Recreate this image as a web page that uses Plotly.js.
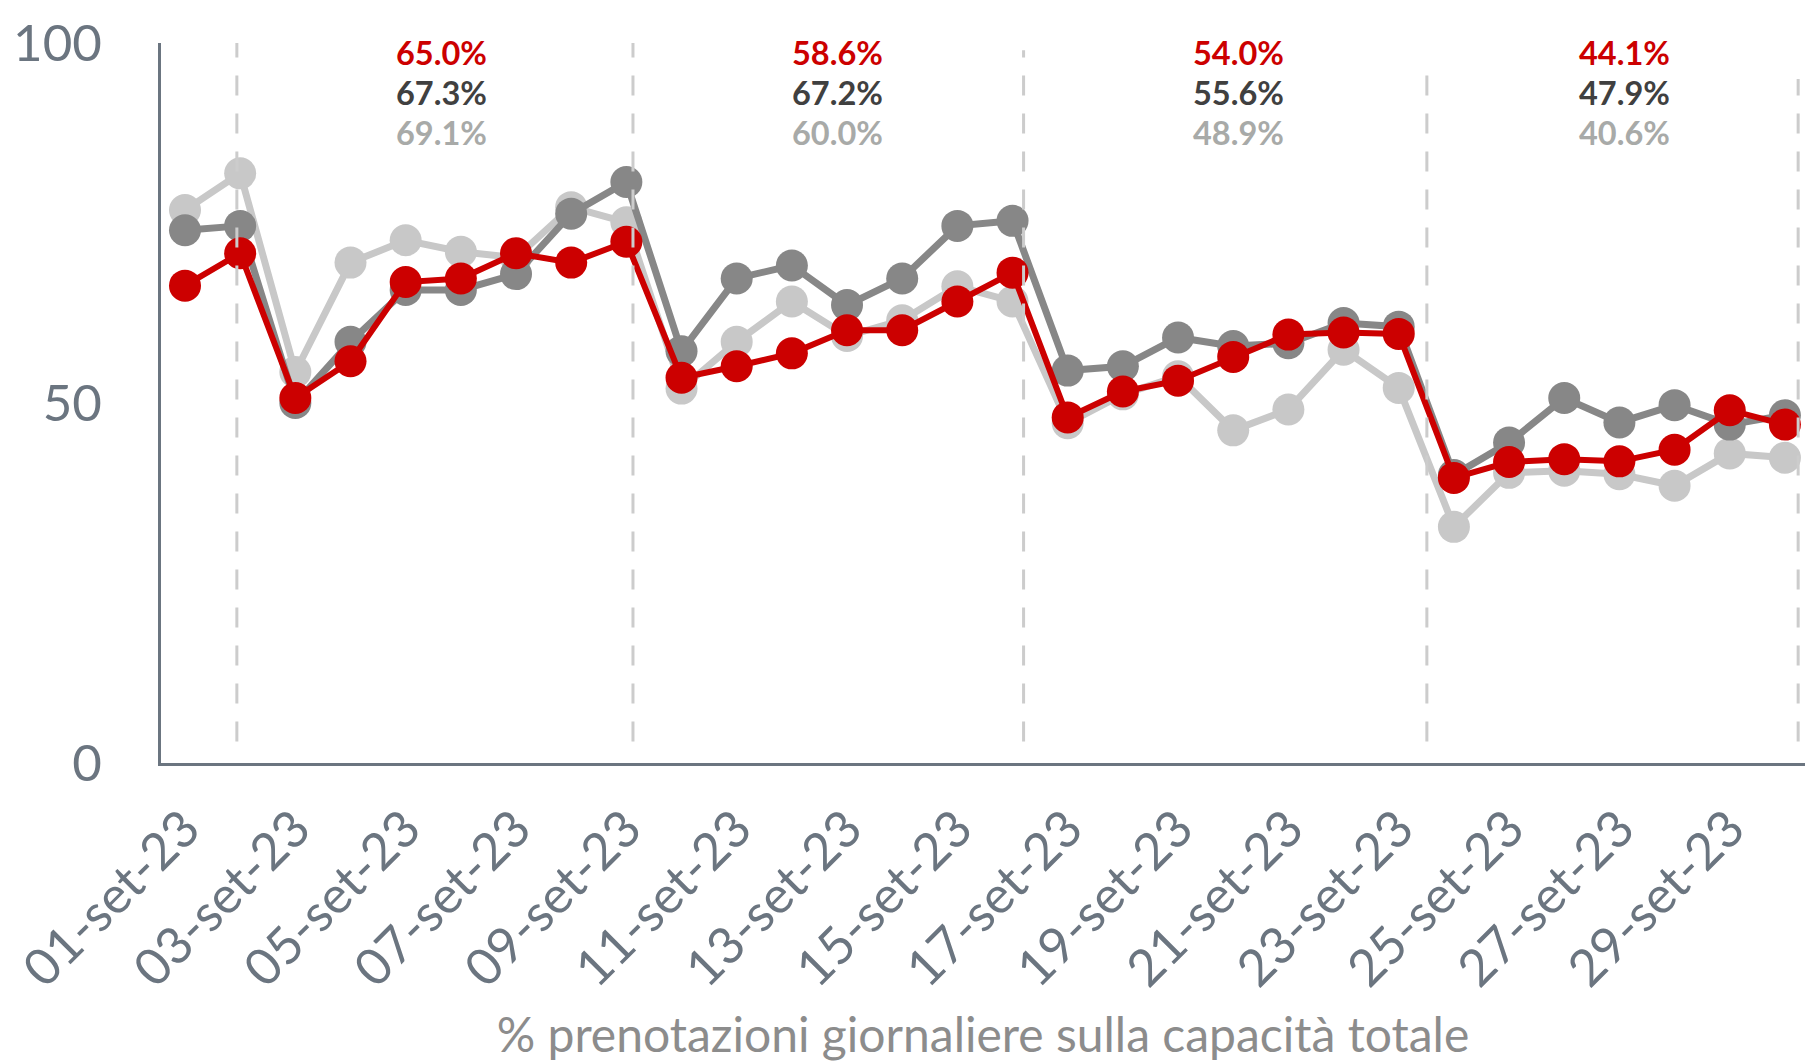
<!DOCTYPE html>
<html>
<head>
<meta charset="utf-8">
<script src="https://cdn.plot.ly/plotly-3.0.1.min.js"></script>
<style>
  html, body { margin: 0; padding: 0; background: #ffffff; }
  #chart { width: 1805px; height: 1062px; }
</style>
</head>
<body>
<div id="chart"></div>
<script>
// ---- Data ----
const days = ['01-set-23','02-set-23','03-set-23','04-set-23','05-set-23','06-set-23','07-set-23','08-set-23','09-set-23','10-set-23',
              '11-set-23','12-set-23','13-set-23','14-set-23','15-set-23','16-set-23','17-set-23','18-set-23','19-set-23','20-set-23',
              '21-set-23','22-set-23','23-set-23','24-set-23','25-set-23','26-set-23','27-set-23','28-set-23','29-set-23','30-set-23'];

const seriesRed   = [66.3, 70.8, 50.7, 55.8, 66.8, 67.3, 70.8, 69.5, 72.4, 53.5,
                     55.1, 56.9, 60.1, 60.1, 64.1, 68.1, 48.0, 51.6, 53.1, 56.4,
                     59.5, 59.8, 59.6, 39.6, 41.8, 42.2, 41.9, 43.5, 49.0, 47.0];
const seriesDark  = [74.0, 74.6, 50.0, 58.5, 65.7, 65.7, 67.9, 76.3, 80.7, 57.2,
                     67.3, 69.1, 63.6, 67.3, 74.6, 75.3, 54.5, 55.1, 59.1, 57.9,
                     58.3, 61.1, 60.6, 40.0, 44.5, 50.7, 47.3, 49.7, 47.0, 48.3];
const seriesLight = [76.8, 81.9, 54.3, 69.5, 72.6, 71.0, 70.2, 77.2, 75.1, 52.0,
                     58.5, 64.1, 59.3, 61.5, 66.2, 64.1, 47.2, 51.2, 53.7, 46.2,
                     49.1, 57.4, 52.1, 32.8, 40.3, 40.6, 40.1, 38.5, 43.0, 42.4];

const yTicks = [0, 50, 100];
const weekDividers = [0.94, 8.12, 15.2, 22.51, 29.24];
const dividerTop   = [100, 100, 99, 96, 95];
const weekLabelX   = [4.65, 11.83, 19.1, 26.1];
const avgRed   = ['65.0%', '58.6%', '54.0%', '44.1%'];
const avgDark  = ['67.3%', '67.2%', '55.6%', '47.9%'];
const avgLight = ['69.1%', '60.0%', '48.9%', '40.6%'];
const axisTitle = '% prenotazioni giornaliere sulla capacità totale';

// ---- Styles ----
const RED = '#cc0000', DARK = '#878787', LIGHT = '#c8c8c8';
const TXT_RED = '#cc0000', TXT_DARK = '#404040', TXT_LIGHT = '#a8aaa8';
const AXIS = '#6b7580';
const FONT = 'Lato, "Open Sans", sans-serif';

function lineTrace(y, color, width) {
  return {
    type: 'scatter', mode: 'lines+markers', x: days, y: y,
    line: { color: color, width: width },
    marker: { color: color, size: 32 },
    cliponaxis: false, hoverinfo: 'skip', showlegend: false
  };
}

const traces = [
  lineTrace(seriesLight, LIGHT, 7),
  lineTrace(seriesDark, DARK, 7),
  lineTrace(seriesRed, RED, 6)
];

const shapes = weekDividers.map((x, i) => ({
  type: 'line', xref: 'x', yref: 'y', x0: x, x1: x, y0: 3, y1: dividerTop[i],
  line: { color: '#cccccc', width: 3, dash: '20px,18px' }, layer: 'above'
}));

// one stacked annotation per week: base size sets the line spacing (40px),
// the spans carry the glyph size
const span = (t, c) => `<span style="color:${c};font-size:32.5px">${t}</span>`;
const annotations = weekLabelX.map((x, i) => ({
  x: x, y: 93.1, xref: 'x', yref: 'y', showarrow: false,
  xanchor: 'center', yanchor: 'middle', align: 'center',
  text: span(avgRed[i], TXT_RED) + '<br>' + span(avgDark[i], TXT_DARK) + '<br>' + span(avgLight[i], TXT_LIGHT),
  font: { family: FONT, size: 30.8, color: TXT_DARK, weight: 700 }
}));

const layout = {
  width: 1805, height: 1062,
  margin: { l: 161, r: 0, t: 43, b: 299 },
  paper_bgcolor: '#ffffff', plot_bgcolor: '#ffffff',
  showlegend: false,
  xaxis: {
    type: 'category', range: [-0.435, 29.364],
    tickmode: 'linear', tick0: 0, dtick: 2,
    tickangle: -45, showgrid: false, zeroline: false,
    showline: true, linecolor: AXIS, linewidth: 3,
    ticks: '', ticklabelstandoff: 12,
    tickfont: { family: FONT, size: 51, color: AXIS },
    title: { text: axisTitle, standoff: 32, font: { family: FONT, size: 48, color: '#8c8c8c' } }
  },
  yaxis: {
    range: [0, 100], tickmode: 'array', tickvals: yTicks,
    showgrid: false, zeroline: false,
    showline: true, linecolor: AXIS, linewidth: 3,
    ticks: '', ticklabelstandoff: 46,
    tickfont: { family: FONT, size: 51, color: AXIS }
  },
  shapes: shapes,
  annotations: annotations
};

Plotly.newPlot('chart', traces, layout, { displayModeBar: false, staticPlot: true });
</script>
</body>
</html>
